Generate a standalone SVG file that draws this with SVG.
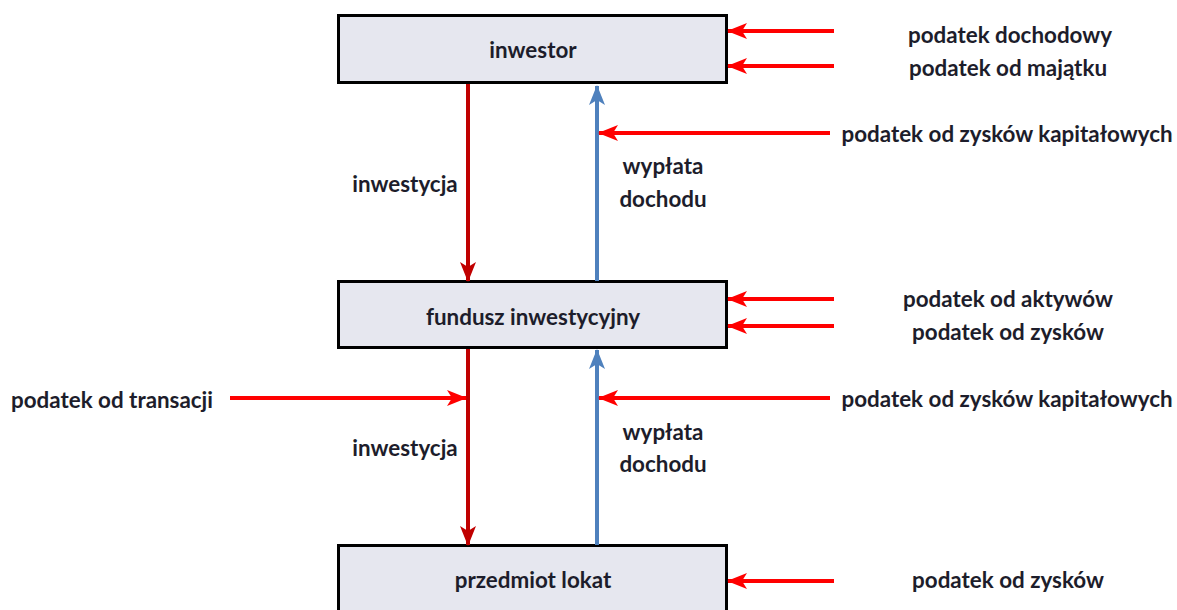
<svg xmlns="http://www.w3.org/2000/svg" width="1177" height="610" viewBox="0 0 1177 610">
  <style>
    .box { fill: #e6e7ef; stroke: #000; stroke-width: 3; }
    .t { font-family: Lato, "Open Sans", "Liberation Sans", sans-serif; font-weight: bold; font-size: 22.4px; fill: #1d1d2b; text-anchor: middle; }
    .tax { stroke: #ff0000; stroke-width: 4; fill: none; }
    .down { stroke: #c00000; stroke-width: 4; fill: none; }
    .up { stroke: #4f81bd; stroke-width: 4; fill: none; }
  </style>
  <defs>
    <marker id="ahTax" markerUnits="userSpaceOnUse" markerWidth="20" markerHeight="16" viewBox="0 0 20 16" refX="19" refY="8" orient="auto">
      <path d="M0,0 L20,8 L0,16 L5,8 Z" fill="#ff0000"/>
    </marker>
    <marker id="ahDown" markerUnits="userSpaceOnUse" markerWidth="20" markerHeight="16" viewBox="0 0 20 16" refX="19" refY="8" orient="auto">
      <path d="M0,0 L20,8 L0,16 L5,8 Z" fill="#c00000"/>
    </marker>
    <marker id="ahUp" markerUnits="userSpaceOnUse" markerWidth="20" markerHeight="16" viewBox="0 0 20 16" refX="19" refY="8" orient="auto">
      <path d="M0,0 L20,8 L0,16 L5,8 Z" fill="#4f81bd"/>
    </marker>
  </defs>

  <g id="node-inwestor">
    <rect class="box" x="338.5" y="15.5" width="388" height="67"/>
    <text class="t" x="533" y="58">inwestor</text>
  </g>
  <g id="node-fundusz">
    <rect class="box" x="338.5" y="281.5" width="388" height="66"/>
    <text class="t" x="533" y="325">fundusz inwestycyjny</text>
  </g>
  <g id="node-przedmiot">
    <rect class="box" x="338.5" y="545.5" width="388" height="70"/>
    <text class="t" x="533" y="588">przedmiot lokat</text>
  </g>

  <g id="connectors">
    <!-- investment flows down -->
    <line class="down" x1="468" y1="84" x2="468" y2="281" marker-end="url(#ahDown)"/>
    <line class="down" x1="468" y1="349" x2="468" y2="545" marker-end="url(#ahDown)"/>
    <!-- income flows up -->
    <line class="up" x1="597" y1="281" x2="597" y2="86" marker-end="url(#ahUp)"/>
    <line class="up" x1="597" y1="545" x2="597" y2="350" marker-end="url(#ahUp)"/>
    <!-- taxes -->
    <line class="tax" x1="834" y1="31" x2="728" y2="31" marker-end="url(#ahTax)"/>
    <line class="tax" x1="834" y1="66" x2="728" y2="66" marker-end="url(#ahTax)"/>
    <line class="tax" x1="830" y1="133" x2="599" y2="133" marker-end="url(#ahTax)"/>
    <line class="tax" x1="834" y1="299" x2="728" y2="299" marker-end="url(#ahTax)"/>
    <line class="tax" x1="834" y1="326" x2="728" y2="326" marker-end="url(#ahTax)"/>
    <line class="tax" x1="830" y1="398" x2="599" y2="398" marker-end="url(#ahTax)"/>
    <line class="tax" x1="230" y1="398" x2="466" y2="398" marker-end="url(#ahTax)"/>
    <line class="tax" x1="834" y1="581" x2="728" y2="581" marker-end="url(#ahTax)"/>
  </g>

  <g id="labels">
    <text class="t" x="405" y="192">inwestycja</text>
    <text class="t" x="663" y="174">wypłata</text>
    <text class="t" x="663" y="207">dochodu</text>
    <text class="t" x="405" y="456">inwestycja</text>
    <text class="t" x="663" y="440">wypłata</text>
    <text class="t" x="663" y="472">dochodu</text>
    <text class="t" x="1010" y="43">podatek dochodowy</text>
    <text class="t" x="1008" y="76">podatek od majątku</text>
    <text class="t" x="1007" y="142">podatek od zysków kapitałowych</text>
    <text class="t" x="1008" y="307">podatek od aktywów</text>
    <text class="t" x="1008" y="340">podatek od zysków</text>
    <text class="t" x="1007" y="407">podatek od zysków kapitałowych</text>
    <text class="t" x="112" y="408">podatek od transacji</text>
    <text class="t" x="1008" y="588">podatek od zysków</text>
  </g>
</svg>
